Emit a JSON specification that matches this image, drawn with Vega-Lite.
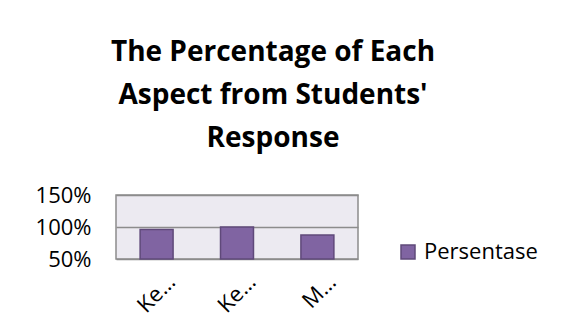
{
  "$schema": "https://vega.github.io/schema/vega-lite/v6.json",
  "autosize": {"type": "none"},
  "width": 242,
  "height": 64,
  "padding": {"left": 116, "top": 195, "right": 204, "bottom": 74},
  "background": "white",
  "title": {
    "text": ["The Percentage of Each", "Aspect from Students'", "Response"],
    "font": "Open Sans",
    "fontSize": 28,
    "fontWeight": "bold",
    "color": "#000000",
    "lineHeight": 43,
    "anchor": "middle",
    "dx": 36,
    "offset": 31
  },
  "data": {
    "values": [
      {"aspect": "Kemenarikan", "value": 0.96, "series": "Persentase"},
      {"aspect": "Kemudahan", "value": 1.0, "series": "Persentase"},
      {"aspect": "Manfaat", "value": 0.875, "series": "Persentase"}
    ]
  },
  "mark": {"type": "bar", "stroke": "#5F497A", "strokeWidth": 1.5},
  "encoding": {
    "x": {
      "field": "aspect",
      "type": "nominal",
      "sort": null,
      "scale": {"paddingInner": 0.59, "paddingOuter": 0.3},
      "axis": {
        "title": null,
        "domain": false,
        "ticks": false,
        "labelAngle": -45,
        "labelFont": "Open Sans",
        "labelFontSize": 22,
        "labelColor": "#000000",
        "labelLimit": 46,
        "labelPadding": 12,
        "labelOffset": 8
      }
    },
    "y": {
      "field": "value",
      "type": "quantitative",
      "scale": {"domain": [0.5, 1.5], "zero": false, "nice": false},
      "axis": {
        "title": null,
        "domain": false,
        "ticks": false,
        "values": [0.5, 1.0, 1.5],
        "format": ".0%",
        "grid": true,
        "gridColor": "#8C8C8C",
        "gridWidth": 1.5,
        "labelFont": "Open Sans",
        "labelFontSize": 22,
        "labelColor": "#000000",
        "labelPadding": 25
      }
    },
    "y2": {"datum": 0.5},
    "color": {
      "field": "series",
      "type": "nominal",
      "scale": {"range": ["#8064A2"]},
      "legend": {
        "title": null,
        "orient": "none",
        "legendX": 281,
        "legendY": 46,
        "symbolType": "square",
        "symbolSize": 196,
        "symbolStrokeColor": "#5F497A",
        "symbolStrokeWidth": 1.5,
        "symbolOpacity": 1,
        "labelFont": "Open Sans",
        "labelFontSize": 22,
        "labelColor": "#000000",
        "labelOffset": 5
      }
    }
  },
  "config": {
    "view": {"stroke": "#8C8C8C", "strokeWidth": 1.5, "fill": "#ECEAF1"}
  }
}
